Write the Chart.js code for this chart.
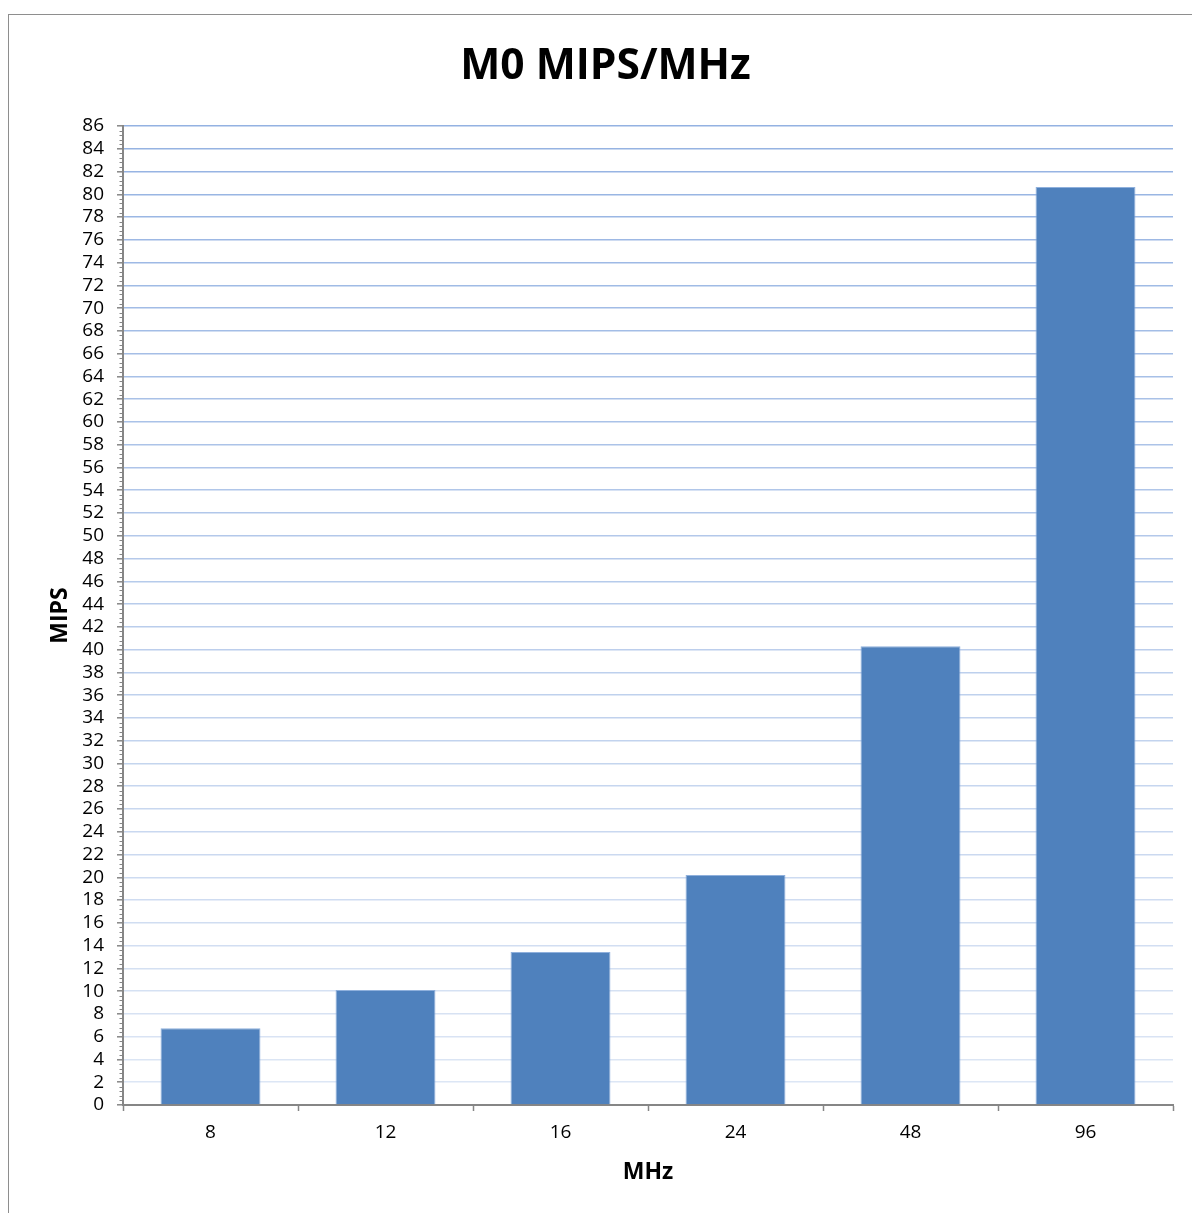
<!DOCTYPE html>
<html>
<head>
<meta charset="utf-8">
<script src="https://cdn.jsdelivr.net/npm/chart.js@4"></script>
<style>
  html, body { margin: 0; padding: 0; background: #ffffff; overflow: hidden; }
  #frame { position: absolute; left: 8px; top: 14px; width: 1200px; height: 1220px;
           border: 1.5px solid #8e8e8e; box-sizing: border-box; }
  #wrap { position: absolute; left: 0; top: 0; width: 1192px; height: 1213px; }
</style>
</head>
<body>
<div id="frame"></div>
<div id="wrap"><canvas id="chart" width="1192" height="1213"></canvas></div>
<script>
// Clock frequency (MHz) and measured throughput (MIPS)
const categories = ['8', '12', '16', '24', '48', '96'];
const mipsValues = [6.75, 10.1, 13.45, 20.2, 40.3, 80.65];
const yMin = 0;
const yMax = 86;
const yStep = 2;
const yMinorStep = 0.4;

const FONT = "'Open Sans', 'DejaVu Sans', sans-serif";
const AXIS_GRAY = '#868686';

// Gridlines fade from a stronger blue at the top to a pale blue at the bottom
function gridColor(value) {
  const t = Math.max(0, Math.min(1, value / yMax));
  const top = [148, 178, 226], bottom = [222, 231, 245];
  const c = bottom.map((b, i) => Math.round(b + (top[i] - b) * t));
  return `rgb(${c[0]},${c[1]},${c[2]})`;
}

// Short minor tick marks on the value axis between the labelled ticks
const minorTicks = {
  id: 'minorTicks',
  afterDraw(chart) {
    const y = chart.scales.y;
    const ctx = chart.ctx;
    const x0 = chart.chartArea.left;
    const n = Math.round((yMax - yMin) / yMinorStep);
    const perMajor = Math.round(yStep / yMinorStep);
    ctx.save();
    ctx.strokeStyle = AXIS_GRAY;
    ctx.lineWidth = 1;
    for (let i = 0; i <= n; i++) {
      if (i % perMajor === 0) continue;
      const py = Math.round(y.getPixelForValue(yMin + i * yMinorStep)) + 0.5;
      ctx.beginPath();
      ctx.moveTo(x0 - 3.5, py);
      ctx.lineTo(x0, py);
      ctx.stroke();
    }
    ctx.restore();
  }
};

new Chart(document.getElementById('chart'), {
  type: 'bar',
  data: {
    labels: categories,
    datasets: [{
      label: 'MIPS',
      data: mipsValues,
      backgroundColor: '#4f81bd',
      borderColor: '#8fb0dc',
      borderWidth: 1,
      borderSkipped: 'bottom',
      categoryPercentage: 1.0,
      barPercentage: 0.571
    }]
  },
  options: {
    responsive: false,
    animation: false,
    devicePixelRatio: 1,
    layout: { padding: { left: 38, right: 19, top: 0, bottom: 0 } },
    plugins: {
      legend: { display: false },
      tooltip: { enabled: false },
      title: {
        display: true,
        text: 'M0 MIPS/MHz',
        color: '#000000',
        font: { family: FONT, size: 42.5, weight: 'bold', lineHeight: 1.2 },
        padding: { top: 41.5, bottom: 33.5 }
      }
    },
    scales: {
      x: {
        offset: true,
        grid: {
          display: true,
          offset: true,
          drawOnChartArea: false,
          drawTicks: true,
          tickLength: 6,
          tickColor: AXIS_GRAY,
          tickWidth: 1.5
        },
        border: { display: true, color: AXIS_GRAY, width: 2 },
        ticks: {
          color: '#000000',
          padding: 10,
          maxRotation: 0,
          font: { family: FONT, size: 19 }
        },
        title: {
          display: true,
          text: 'MHz',
          color: '#000000',
          font: { family: FONT, size: 23, weight: 'bold', lineHeight: 1.2 },
          padding: { top: 0, bottom: 27 }
        },
        afterFit(scale) { scale.height = 1213 - 1105; }
      },
      y: {
        min: yMin,
        max: yMax,
        grid: {
          color: (ctx) => gridColor(ctx.tick ? ctx.tick.value : 0),
          lineWidth: 1.6,
          drawTicks: true,
          tickLength: 6,
          tickColor: AXIS_GRAY,
          tickWidth: 1.5
        },
        border: { display: true, color: AXIS_GRAY, width: 2 },
        ticks: {
          stepSize: yStep,
          autoSkip: false,
          color: '#000000',
          padding: 13,
          font: { family: FONT, size: 19 }
        },
        title: {
          display: true,
          text: 'MIPS',
          color: '#000000',
          font: { family: FONT, size: 23, weight: 'bold', lineHeight: 1.2 },
          padding: { top: 9, bottom: 0 }
        },
        afterFit(scale) { scale.width = 123 - 38; }
      }
    }
  },
  plugins: [minorTicks]
});
</script>
</body>
</html>
